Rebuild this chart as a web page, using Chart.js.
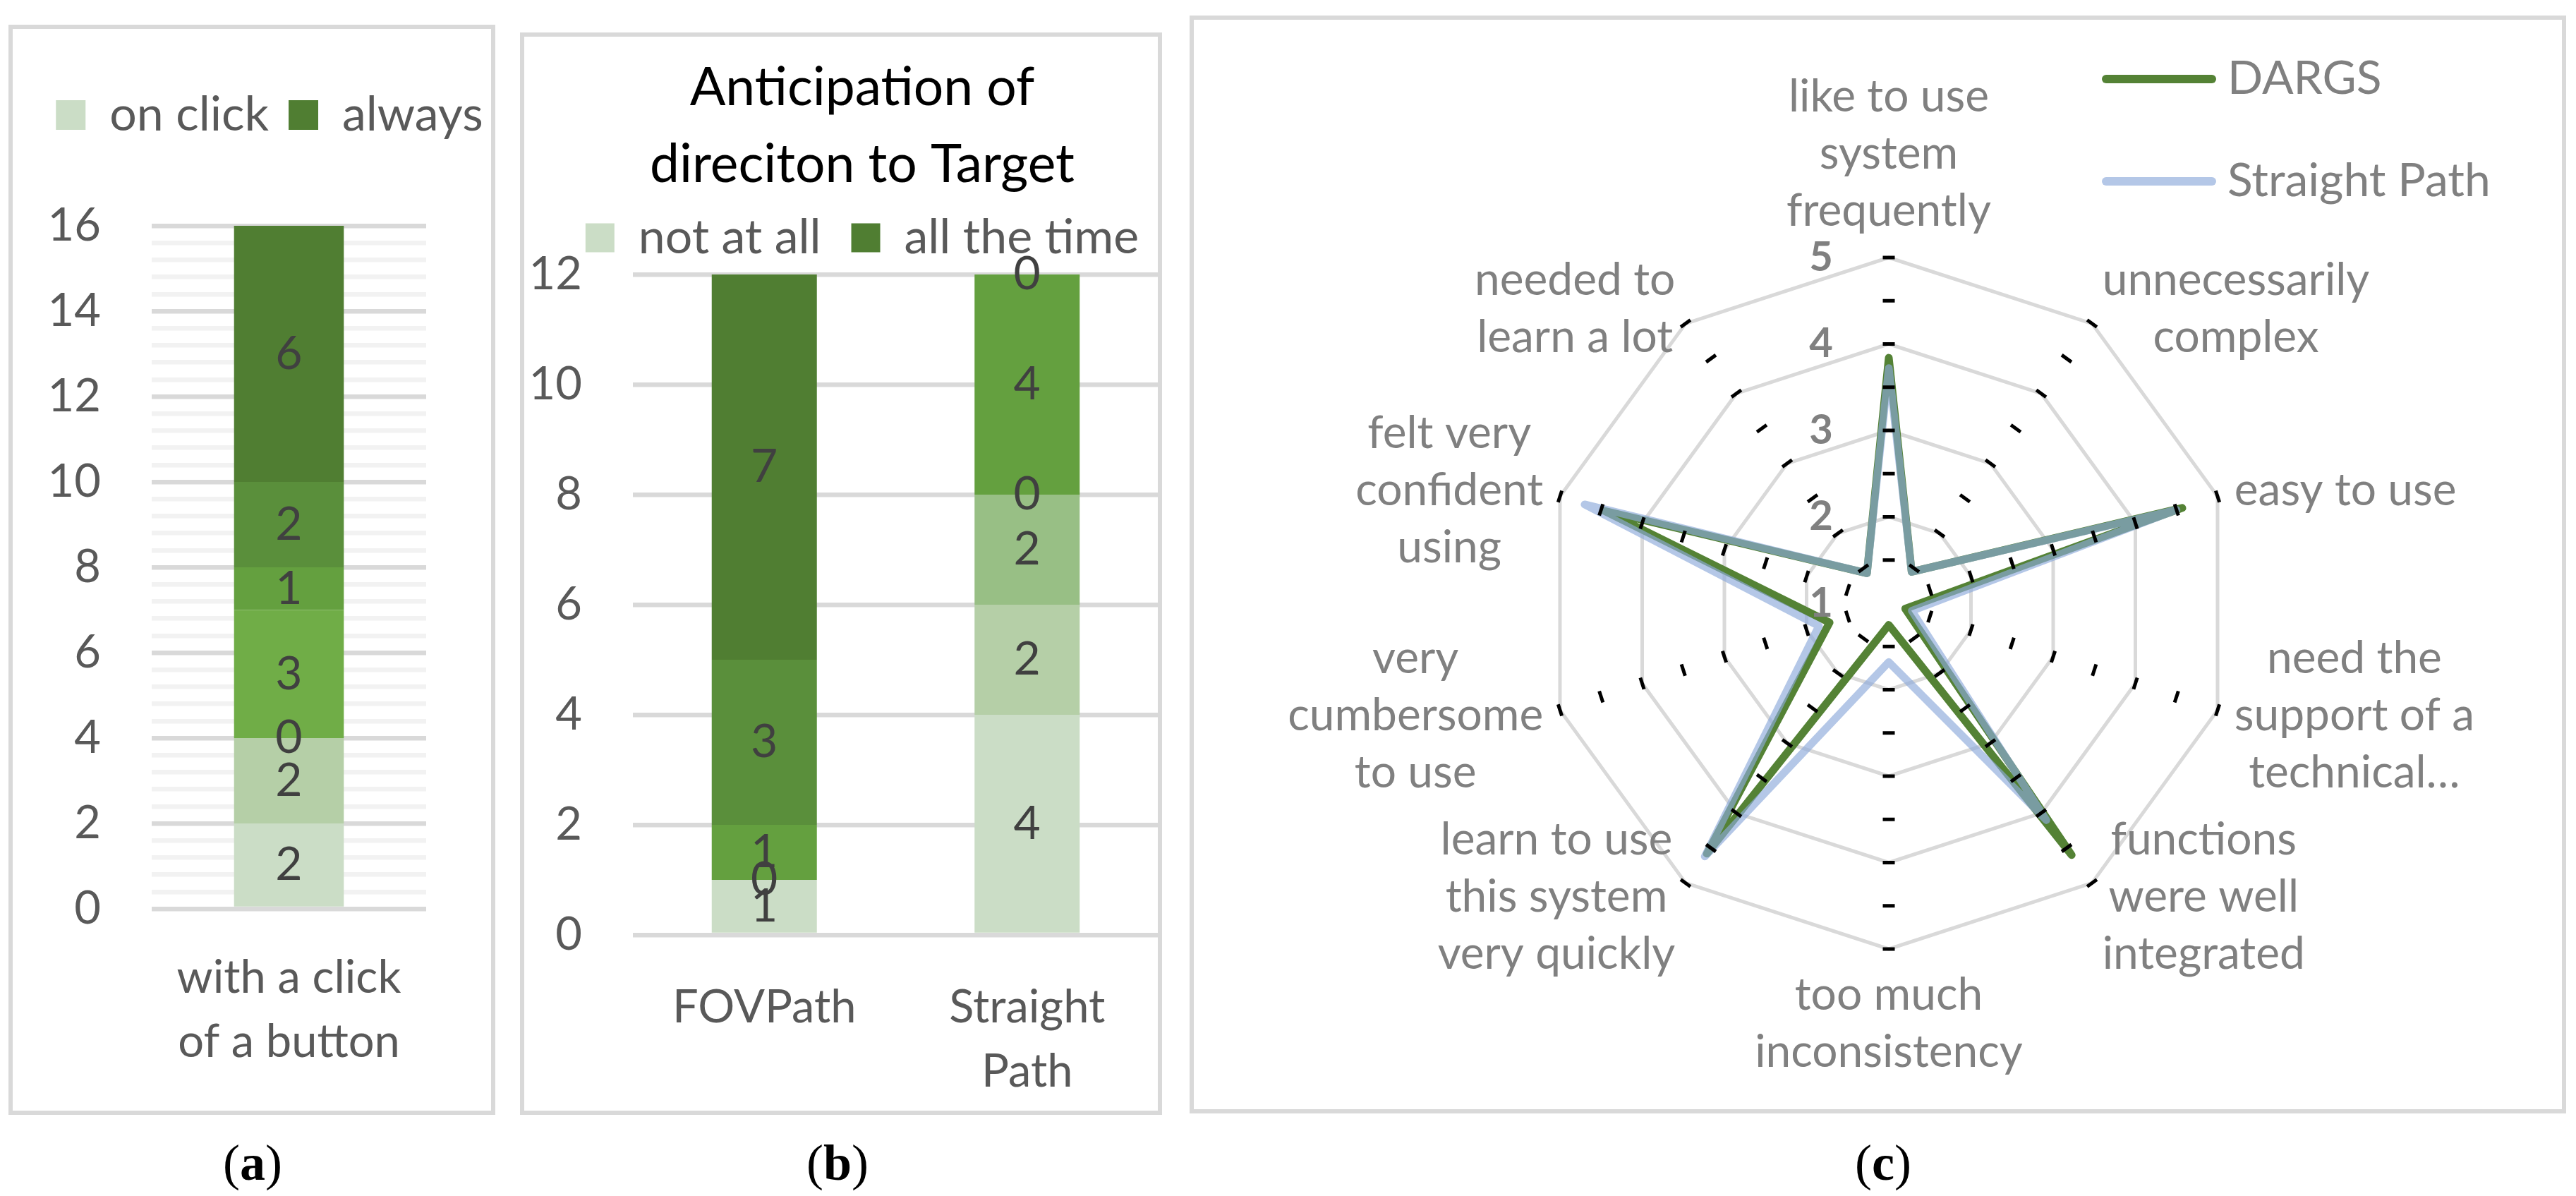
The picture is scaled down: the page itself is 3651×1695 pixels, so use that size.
<!DOCTYPE html>
<html>
<head>
<meta charset="utf-8">
<script src="https://cdn.jsdelivr.net/npm/chart.js@4.4.1/dist/chart.umd.min.js"></script>
<style>
  html, body { margin: 0; padding: 0; background: #fff; }
  body { width: 3651px; height: 1695px; position: relative; overflow: hidden; }
  .panel { position: absolute; }
  .panel canvas { position: absolute; left: 0; top: 0; }
  .frame { position: absolute; left: 0; top: 0; right: 0; bottom: 0; border: 6px solid #d9d9d9; box-sizing: border-box; pointer-events: none; }
  .caption { position: absolute; top: 1612px; line-height: 72px; font-family: "Liberation Serif", serif; font-size: 72px; color: #000; transform: translateX(-50%); }
</style>
</head>
<body>

<div class="panel" style="left:12px;top:35px;width:690px;height:1545px">
  <canvas id="chartA" width="690" height="1545"></canvas><div class="frame"></div>
</div>
<div class="panel" style="left:737px;top:46px;width:910px;height:1534px">
  <canvas id="chartB" width="910" height="1534"></canvas><div class="frame"></div>
</div>
<div class="panel" style="left:1686px;top:22px;width:1951px;height:1556px">
  <canvas id="chartC" width="1951" height="1556"></canvas><div class="frame"></div>
</div>

<div class="caption" style="left:358px">(<b>a</b>)</div>
<div class="caption" style="left:1187px">(<b>b</b>)</div>
<div class="caption" style="left:2669px">(<b>c</b>)</div>

<script>
// Daten (a): ein Balken, sieben Stufen von "on click" bis "always"
const catsA = [["with a click", "of a button"]];
const levelsA = ["on click", "level 2", "level 3", "level 4", "level 5", "level 6", "always"];
const stackA = [2, 2, 0, 3, 1, 2, 6];

// Daten (b): zwei Balken, sieben Stufen
const catsB = ["FOVPath", ["Straight", "Path"]];
const levelsB = ["not at all", "level 2", "level 3", "level 4", "level 5", "level 6", "all the time"];
const fovPathB = [1, null, null, 0, 1, 3, 7];
const straightB = [4, 2, 2, 0, 4, 0, null];

// Daten (c): SUS Fragebogen
const susItems = [
  ["like to use", "system", "frequently"],
  ["unnecessarily", "complex"],
  ["easy to use"],
  ["need the", "support of a", "technical…"],
  ["functions", "were well", "integrated"],
  ["too much", "inconsistency"],
  ["learn to use", "this system", "very quickly"],
  ["very", "cumbersome", "to use"],
  ["felt very", "confident", "using"],
  ["needed to", "learn a lot"]
];
const dargs = [3.84, 1.45, 4.57, 1.2, 4.6, 1.25, 4.58, 1.72, 4.46, 1.43];
const straightPath = [3.72, 1.45, 4.5, 1.28, 4.1, 1.68, 4.62, 1.85, 4.7, 1.43];
const radarTicks = [1, 2, 3, 4, 5];

// Farben der Stufen (hell -> dunkel)
const greens = ["#cbddc6", "#b5cfa7", "#98bf85", "#70ad47", "#64a03f", "#5a8f3b", "#507e32"];

const axisFont = { family: "Lato", size: 65, lineHeight: 1.4 };
const legendFont = { family: "Lato", size: 68 };
const isMajor = v => Math.abs(v / 2 - Math.round(v / 2)) < 1e-6;

// leere Achse rechts, nur als Platzhalter
function spacerAxis(w) {
  return {
    type: "linear", position: "right", display: true,
    grid: { display: false }, border: { display: false }, ticks: { display: false },
    afterFit: s => { s.width = w; }
  };
}

// Zahlen in die Segmente schreiben
const stackLabels = {
  id: "stackLabels",
  afterDatasetsDraw(chart) {
    const ctx = chart.ctx;
    ctx.save();
    ctx.font = "66px Lato";
    ctx.fillStyle = "#404040";
    ctx.textAlign = "center";
    ctx.textBaseline = "middle";
    chart.data.datasets.forEach((ds, i) => {
      chart.getDatasetMeta(i).data.forEach((bar, j) => {
        const v = ds.data[j];
        if (v === null || v === undefined) return;
        ctx.fillText(String(v), bar.x, (bar.y + bar.base) / 2);
      });
    });
    ctx.restore();
  }
};

// Abstand unter der Legende
const legendGap = {
  id: "legendGap",
  beforeInit(chart, args, opts) {
    const fit = chart.legend.fit;
    chart.legend.fit = function () {
      fit.call(this);
      this.height += opts.extra || 0;
    };
  }
};

// Diagramm (a)
new Chart(document.getElementById("chartA"), {
  type: "bar",
  data: {
    labels: catsA,
    datasets: levelsA.map((name, i) => ({
      label: name, data: [stackA[i]], backgroundColor: greens[i],
      barPercentage: 0.4, categoryPercentage: 1
    }))
  },
  options: {
    responsive: false,
    animation: false,
    layout: { padding: { left: 30, right: -20, top: 66, bottom: 52 } },
    scales: {
      x: {
        stacked: true,
        grid: { display: false },
        border: { display: false },
        ticks: { color: "#595959", font: axisFont, padding: 45, maxRotation: 0, autoSkip: false },
        afterFit: s => { s.height = 240; }
      },
      y: {
        stacked: true, min: 0, max: 16,
        border: { display: false },
        grid: { drawTicks: false, lineWidth: 6.5, color: c => isMajor(c.tick.value) ? "#d9d9d9" : "#f2f2f2" },
        ticks: { stepSize: 0.4, autoSkip: false, padding: 72, color: "#595959", font: axisFont,
                 callback: v => isMajor(v) ? Math.round(v) : "" },
        afterFit: s => { s.width = 173; }
      },
      yr: spacerAxis(118)
    },
    plugins: {
      legend: {
        labels: {
          boxWidth: 42, boxHeight: 42, padding: 28, color: "#595959", font: legendFont,
          filter: item => item.datasetIndex === 0 || item.datasetIndex === 6
        }
      },
      legendGap: { extra: 113 },
      tooltip: { enabled: false }
    }
  },
  plugins: [stackLabels, legendGap]
});

// Diagramm (b)
new Chart(document.getElementById("chartB"), {
  type: "bar",
  data: {
    labels: catsB,
    datasets: levelsB.map((name, i) => ({
      label: name, data: [fovPathB[i], straightB[i]], backgroundColor: greens[i],
      barPercentage: 0.4, categoryPercentage: 1
    }))
  },
  options: {
    responsive: false,
    animation: false,
    layout: { padding: { left: 5, right: -55, top: 10, bottom: 25 } },
    scales: {
      x: {
        stacked: true,
        grid: { display: false },
        border: { display: false },
        ticks: { color: "#595959", font: axisFont, padding: 50, maxRotation: 0, autoSkip: false },
        afterFit: s => { s.height = 230; }
      },
      y: {
        stacked: true, min: 0, max: 12,
        border: { display: false },
        grid: { drawTicks: false, lineWidth: 6.5, color: "#d9d9d9" },
        ticks: { stepSize: 2, padding: 72, color: "#595959", font: axisFont },
        afterFit: s => { s.width = 155; }
      },
      yr: spacerAxis(60)
    },
    plugins: {
      title: {
        display: true,
        text: ["Anticipation of", "direciton to Target"],
        color: "#000",
        font: { family: "Lato", size: 75, weight: "normal", lineHeight: 1.453 },
        padding: { top: 14.5, bottom: -28.5 }
      },
      legend: {
        labels: {
          boxWidth: 41, boxHeight: 41, padding: 43, color: "#595959", font: legendFont,
          filter: item => item.datasetIndex === 0 || item.datasetIndex === 6
        }
      },
      legendGap: { extra: 8 },
      tooltip: { enabled: false }
    }
  },
  plugins: [stackLabels, legendGap]
});

// Beschriftung, Striche und Legende fuer das Netzdiagramm
const radarDecor = {
  id: "radarDecor",
  afterDatasetsDraw(chart, args, opts) {
    const r = chart.scales.r;
    const ctx = chart.ctx;
    ctx.save();

    // kurze Querstriche auf jeder Achse
    ctx.strokeStyle = "#000";
    ctx.lineWidth = 5;
    ctx.lineCap = "butt";
    chart.data.labels.forEach((lab, i) => {
      const a = r.getIndexAngle(i) - Math.PI / 2;
      const nx = -Math.sin(a), ny = Math.cos(a);
      for (let v = 1.5; v <= 5; v += 0.5) {
        const p = r.getPointPosition(i, r.getDistanceFromCenterForValue(v));
        ctx.beginPath();
        ctx.moveTo(p.x - nx * 8.5, p.y - ny * 8.5);
        ctx.lineTo(p.x + nx * 8.5, p.y + ny * 8.5);
        ctx.stroke();
      }
    });

    // Achsenbeschriftung
    const lh = 81;
    ctx.font = "64px Lato";
    ctx.fillStyle = "#808080";
    ctx.textAlign = "center";
    ctx.textBaseline = "middle";
    chart.data.labels.forEach((lines, i) => {
      const ang = r.getIndexAngle(i);
      const s = Math.sin(ang), c = Math.cos(ang);
      const p = r.getPointPosition(i, r.drawingArea + 25);
      const w = Math.max(...lines.map(t => ctx.measureText(t).width));
      let cx = p.x;
      let top = p.y - lines.length * lh / 2;
      if (s > 0.2) cx = p.x + w / 2;
      else if (s < -0.2) cx = p.x - w / 2;
      else top = c > 0 ? p.y - lines.length * lh : p.y;
      lines.forEach((t, k) => ctx.fillText(t, cx, top + lh / 2 + k * lh));
    });

    // Skalenwerte links neben der oberen Achse
    ctx.font = "bold 58px Lato";
    ctx.textAlign = "right";
    radarTicks.forEach(v => {
      const p = r.getPointPosition(0, r.getDistanceFromCenterForValue(v));
      ctx.fillText(String(v), p.x - 79, p.y);
    });

    // Legende oben rechts
    ctx.font = "66px Lato";
    ctx.textAlign = "left";
    chart.data.datasets.forEach((ds, i) => {
      const y = opts.y + i * opts.step;
      ctx.strokeStyle = ds.borderColor;
      ctx.lineWidth = 12;
      ctx.lineCap = "round";
      ctx.beginPath();
      ctx.moveTo(opts.x0, y);
      ctx.lineTo(opts.x1, y);
      ctx.stroke();
      ctx.fillStyle = "#808080";
      ctx.fillText(ds.label, opts.tx, y);
    });
    ctx.restore();
  }
};

// Diagramm (c)
new Chart(document.getElementById("chartC"), {
  type: "radar",
  data: {
    labels: susItems,
    datasets: [
      { label: "DARGS", data: dargs, borderColor: "#548235", order: 1 },
      { label: "Straight Path", data: straightPath, borderColor: "rgba(140,170,218,0.655)", order: 0 }
    ]
  },
  options: {
    responsive: false,
    animation: false,
    layout: { padding: { left: 501, right: 470, top: 343, bottom: 233 } },
    elements: {
      line: { borderWidth: 11, fill: false, tension: 0, borderJoinStyle: "round", borderCapStyle: "round" },
      point: { radius: 0, hoverRadius: 0 }
    },
    scales: {
      r: {
        min: 1, max: 5,
        ticks: { display: false, stepSize: 1 },
        grid: { color: "#d9d9d9", lineWidth: 5, circular: false },
        angleLines: { display: false },
        pointLabels: { display: false }
      }
    },
    plugins: {
      legend: { display: false },
      tooltip: { enabled: false },
      radarDecor: { x0: 1299, x1: 1449, tx: 1471, y: 90, step: 145 }
    }
  },
  plugins: [radarDecor]
});
</script>
</body>
</html>
